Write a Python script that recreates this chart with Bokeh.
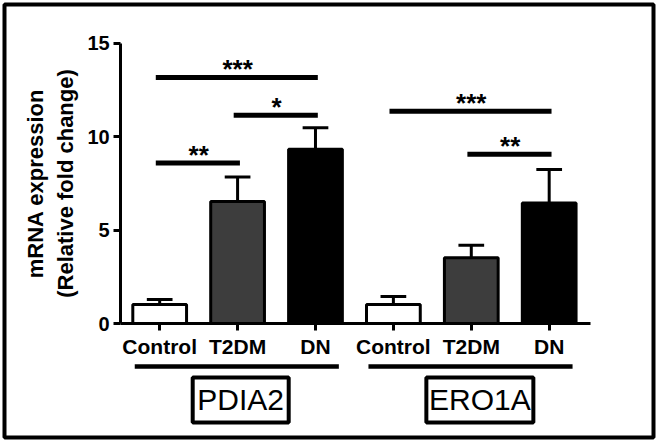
from bokeh.plotting import figure
from bokeh.models import ColumnDataSource, Range1d, FixedTicker
from bokeh.core.properties import value
from bokeh.embed import file_html
from bokeh.resources import INLINE

# ---------------- data ----------------
genes = ["PDIA2", "ERO1A"]
groups = ["Control", "T2DM", "DN"]
y_ticks = [0, 5, 10, 15]

pdia2_mean = [1.02, 6.52, 9.32]
pdia2_sem = [0.26, 1.32, 1.15]
ero1a_mean = [1.02, 3.52, 6.45]
ero1a_sem = [0.42, 0.67, 1.78]

# significance: (first bar index, second bar index, bar height, label)
pdia2_sig = [(0, 2, 13.15, "***"), (1, 2, 11.13, "*"), (0, 1, 8.58, "**")]
ero1a_sig = [(0, 2, 11.35, "***"), (1, 2, 9.05, "**")]

y_title = "mRNA expression\n(Relative fold change)"

# ---------------- styles ----------------
FONT = "Liberation Sans"
bar_colors = ["white", "#3d3d3d", "black"]
bar_width = 0.69
cap_half = 0.165
LW = 3

p = figure(width=657, height=441, output_backend="svg", toolbar_location=None,
           x_range=Range1d(-0.992, 7.339), y_range=Range1d(-6.096, 17.059),
           min_border_left=4, min_border_right=4, min_border_top=4,
           min_border_bottom=4)
p.outline_line_color = "black"
p.outline_line_width = 4
p.xgrid.visible = False
p.ygrid.visible = False
p.background_fill_color = "white"
p.border_fill_color = "white"

# bar positions
means = pdia2_mean + ero1a_mean
sems = pdia2_sem + ero1a_sem
xs = [i + 1 for i in range(len(means))]
labels = groups + groups
colors = bar_colors + bar_colors
src = ColumnDataSource(dict(x=xs, top=means, color=colors,
                            err=[m + s for m, s in zip(means, sems)],
                            c0=[x - cap_half for x in xs],
                            c1=[x + cap_half for x in xs]))

# error bars (upper only)
p.segment(x0="x", y0="top", x1="x", y1="err", source=src,
          line_color="black", line_width=LW)
p.segment(x0="c0", y0="err", x1="c1", y1="err", source=src,
          line_color="black", line_width=LW)
p.vbar(x="x", top="top", bottom=0, width=bar_width, source=src,
       fill_color="color", line_color="black", line_width=LW)

# significance bars
sig_x0, sig_x1, sig_y, sig_tx, sig_ty, sig_txt = [], [], [], [], [], []
for g, sigs in enumerate([pdia2_sig, ero1a_sig]):
    for a, b, h, lab in sigs:
        xa = xs[g * 3 + a]
        xb = xs[g * 3 + b]
        sig_x0.append(xa - 0.05)
        sig_x1.append(xb + 0.03)
        sig_y.append(h)
        sig_tx.append((xa + xb) / 2)
        sig_ty.append(h + 0.45)
        sig_txt.append(lab)
p.segment(x0=sig_x0, y0=sig_y, x1=sig_x1, y1=sig_y, line_color="black",
          line_width=5)
p.text(x=sig_tx, y=sig_ty, text=sig_txt, text_font=value(FONT),
       text_font_style="bold", text_font_size="26px", text_align="center",
       text_baseline="alphabetic", text_color="black")

# group underline + boxed gene labels
gc = [2, 5]
p.segment(x0=[c - 1.32 for c in gc], y0=[-2.30, -2.30],
          x1=[c + 1.30 for c in gc], y1=[-2.30, -2.30],
          line_color="black", line_width=4.5)
box_x = [gc[0] + 0.04, gc[1] + 0.11]
p.rect(x=box_x, y=[-4.09, -4.09], width=[96, 107], height=[45, 45],
       width_units="screen", height_units="screen",
       fill_color="white", line_color="black", line_width=4)
p.text(x=box_x, y=[-4.05, -4.05], text=genes, text_font=value(FONT),
       text_font_size="30px", text_align="center", text_baseline="middle",
       text_color="black")

# axes
xa = p.xaxis[0]
xa.fixed_location = 0
xa.ticker = FixedTicker(ticks=xs)
xa.major_label_overrides = {x: l for x, l in zip(xs, labels)}
xa.bounds = (0.5, 6.53)
xa.axis_line_width = LW
xa.major_tick_line_width = LW
xa.major_tick_out = 7
xa.major_tick_in = 0
xa.minor_tick_line_color = None
xa.major_label_text_font = FONT
xa.major_label_text_font_style = "bold"
xa.major_label_text_font_size = "21px"
xa.major_label_text_color = "black"
xa.major_label_standoff = 4

ya = p.yaxis[0]
ya.fixed_location = 0.5
ya.ticker = FixedTicker(ticks=y_ticks)
ya.bounds = (0, 15)
ya.axis_line_width = LW
ya.major_tick_line_width = LW
ya.major_tick_out = 7
ya.major_tick_in = 0
ya.minor_tick_line_color = None
ya.major_label_text_font = FONT
ya.major_label_text_font_style = "bold"
ya.major_label_text_font_size = "20px"
ya.major_label_text_color = "black"
ya.major_label_standoff = 4
ya.axis_label = y_title
ya.axis_label_text_font = FONT
ya.axis_label_text_font_style = "bold"
ya.axis_label_text_font_size = "22px"
ya.axis_label_text_color = "black"
ya.axis_label_standoff = 6

open("out.html", "w").write(file_html(p, INLINE))
